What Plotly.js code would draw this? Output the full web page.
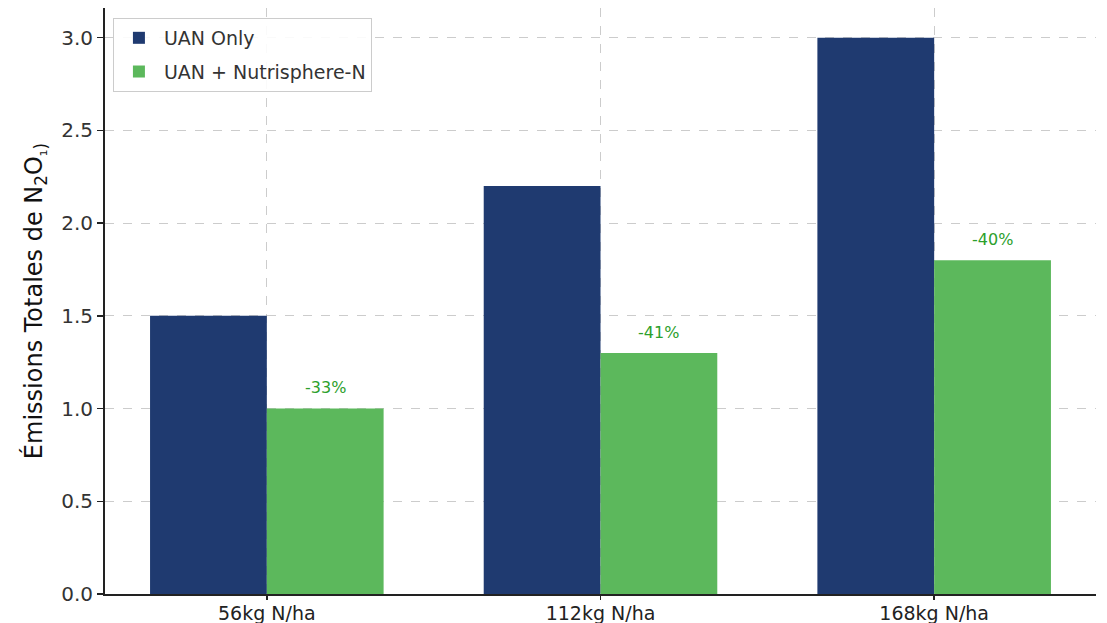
<!DOCTYPE html>
<html>
<head>
<meta charset="utf-8">
<script src="https://cdn.plot.ly/plotly-3.0.1.min.js"></script>
<style>html,body{margin:0;padding:0;background:#fff;}#chart{width:1107px;height:623px;}</style>
</head>
<body>
<div id="chart"></div>
<script>
const categories = ["56kg N/ha", "112kg N/ha", "168kg N/ha"];
const uanOnly = [1.5, 2.2, 3.0];
const uanNutrisphere = [1.0, 1.3, 1.8];
const reductionLabels = ["-33%", "-41%", "-40%"];
const seriesNames = ["UAN Only", "UAN + Nutrisphere-N"];
const yTickVals = [0.0, 0.5, 1.0, 1.5, 2.0, 2.5, 3.0];

const FONT = "DejaVu Sans, sans-serif";
const traces = [
  {type: "bar", name: seriesNames[0], x: categories, y: uanOnly, legendgroup: "a",
   marker: {color: "#1f3a70"}, width: 0.35, offset: -0.35, hoverinfo: "none"},
  {type: "bar", name: seriesNames[1], x: categories, y: uanNutrisphere, legendgroup: "b",
   marker: {color: "#5cb85c"}, width: 0.35, offset: 0, hoverinfo: "none"}
];

const annotations = categories.map((c, i) => ({
  x: i + 0.175, y: uanNutrisphere[i] + 0.05, xref: "x", yref: "y",
  text: reductionLabels[i], showarrow: false, yanchor: "bottom",
  font: {family: FONT, size: 16, color: "#2ca02c"}
}));

const layout = {
  width: 1107, height: 623,
  margin: {l: 105, r: 11, t: 8, b: 29},
  paper_bgcolor: "#fff", plot_bgcolor: "#fff",
  showlegend: true,
  legend: {x: 0.008, y: 0.983, xanchor: "left", yanchor: "top",
    bgcolor: "rgba(255,255,255,0.9)", bordercolor: "#cccccc", borderwidth: 1,
    font: {family: FONT, size: 19, color: "#333"}, tracegroupgap: 6, itemwidth: 40},
  xaxis: {type: "category", range: [-0.485, 2.485],
    showline: true, linecolor: "#222", linewidth: 2,
    ticks: "outside", ticklen: 4, tickwidth: 1.5, tickcolor: "#222",
    ticklabelstandoff: -3,
    showgrid: true, gridcolor: "#cccccc", griddash: "dash", gridwidth: 1,
    tickfont: {family: FONT, size: 19, color: "#222"},
    layer: "above traces", zeroline: false, fixedrange: true},
  yaxis: {range: [0, 3.16], tickvals: yTickVals, tickformat: ".1f",
    showline: true, linecolor: "#222", linewidth: 2,
    ticks: "outside", ticklen: 6, tickwidth: 1.5, tickcolor: "#222",
    showgrid: true, gridcolor: "#cccccc", griddash: "dash", gridwidth: 1,
    tickfont: {family: FONT, size: 20, color: "#333"},
    zeroline: false, layer: "above traces",
    title: {text: "Émissions Totales de N<sub>2</sub>O<sub>₁)</sub>", standoff: 12,
      font: {family: FONT, size: 24, color: "#111"}}, fixedrange: true},
  annotations: annotations
};

Plotly.newPlot("chart", traces, layout, {staticPlot: true, displayModeBar: false});
</script>
</body>
</html>
